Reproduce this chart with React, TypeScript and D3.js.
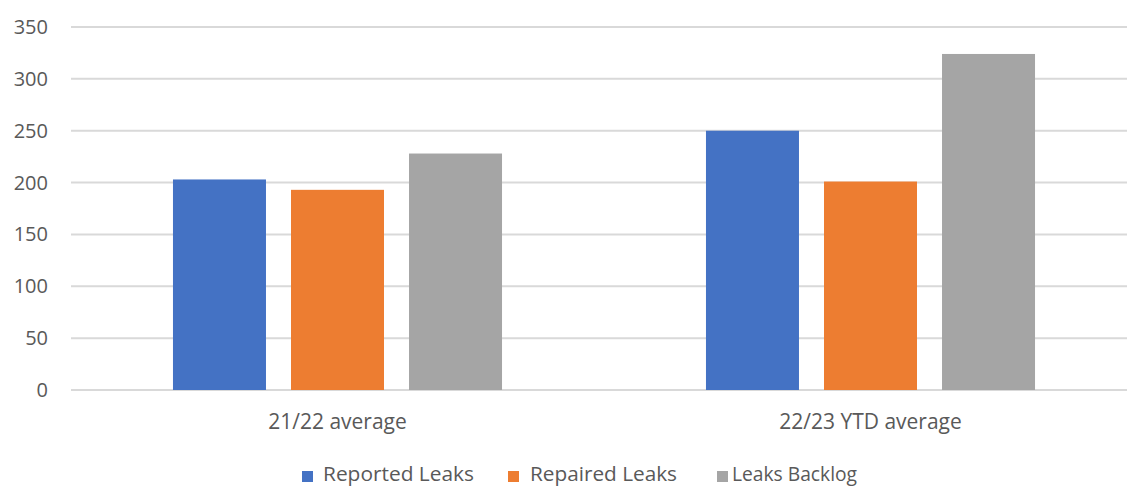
import React from "react";
import * as d3 from "d3";

const categories = ["21/22 average", "22/23 YTD average"];
const seriesNames = ["Reported Leaks", "Repaired Leaks", "Leaks Backlog"];
const reportedLeaks = [203, 250];
const repairedLeaks = [193, 201];
const leaksBacklog = [228, 324];
const yTicks = [0, 50, 100, 150, 200, 250, 300, 350];
const colors = ["#4472C4", "#ED7D31", "#A5A5A5"];

const W = 1127;
const H = 486;

export default function App() {
  const seriesValues = [reportedLeaks, repairedLeaks, leaksBacklog];
  const x0 = d3.scaleBand<string>().domain(categories).range([71, 1137]).paddingInner(0).paddingOuter(0);
  const x1 = d3
    .scaleBand<string>()
    .domain(seriesNames)
    .range([0, x0.bandwidth()])
    .paddingInner(0.212)
    .paddingOuter(0.864);
  const y = d3.scaleLinear().domain([0, 350]).range([390, 27]);

  const tickFont = "'Open Sans', 'Noto Sans', sans-serif";
  const catFont = "'Liberation Sans Narrow', 'Open Sans', sans-serif";

  const legendItems = [
    { name: seriesNames[0], sx: 302, tx: 323, len: 151 },
    { name: seriesNames[1], sx: 508, tx: 530, len: 147 },
    { name: seriesNames[2], sx: 717, tx: 732, len: 125 },
  ];

  return (
    <svg
      width={W}
      height={H}
      style={{ position: "absolute", left: 0, top: 0, background: "#fff" }}
    >
      <rect x={0} y={0} width={W} height={H} fill="#fff" />
      {yTicks.map((t) => (
        <g key={t}>
          <line x1={71} x2={1137} y1={y(t)} y2={y(t)} stroke="#D9D9D9" strokeWidth={2} />
          <text
            x={48}
            y={y(t)}
            dy="0.35em"
            textAnchor="end"
            fontFamily={tickFont}
            fontSize={20}
            fill="#595959"
          >
            {t}
          </text>
        </g>
      ))}
      {categories.map((c, ci) => (
        <g key={c} transform={`translate(${x0(c)},0)`}>
          {seriesNames.map((s, si) => (
            <rect
              key={s}
              x={x1(s)}
              y={y(seriesValues[si][ci])}
              width={x1.bandwidth()}
              height={y(0) - y(seriesValues[si][ci])}
              fill={colors[si]}
            />
          ))}
          <text
            x={x0.bandwidth() / 2}
            y={429}
            textAnchor="middle"
            fontFamily={catFont}
            fontSize={21}
            fill="#595959"
          >
            {c}
          </text>
        </g>
      ))}
      {legendItems.map((l, i) => (
        <g key={l.name}>
          <rect x={l.sx} y={471} width={11} height={11} fill={colors[i]} />
          <text
            x={l.tx}
            y={481}
            fontFamily={tickFont}
            fontSize={20}
            textLength={l.len}
            lengthAdjust="spacingAndGlyphs"
            fill="#595959"
          >
            {l.name}
          </text>
        </g>
      ))}
    </svg>
  );
}
